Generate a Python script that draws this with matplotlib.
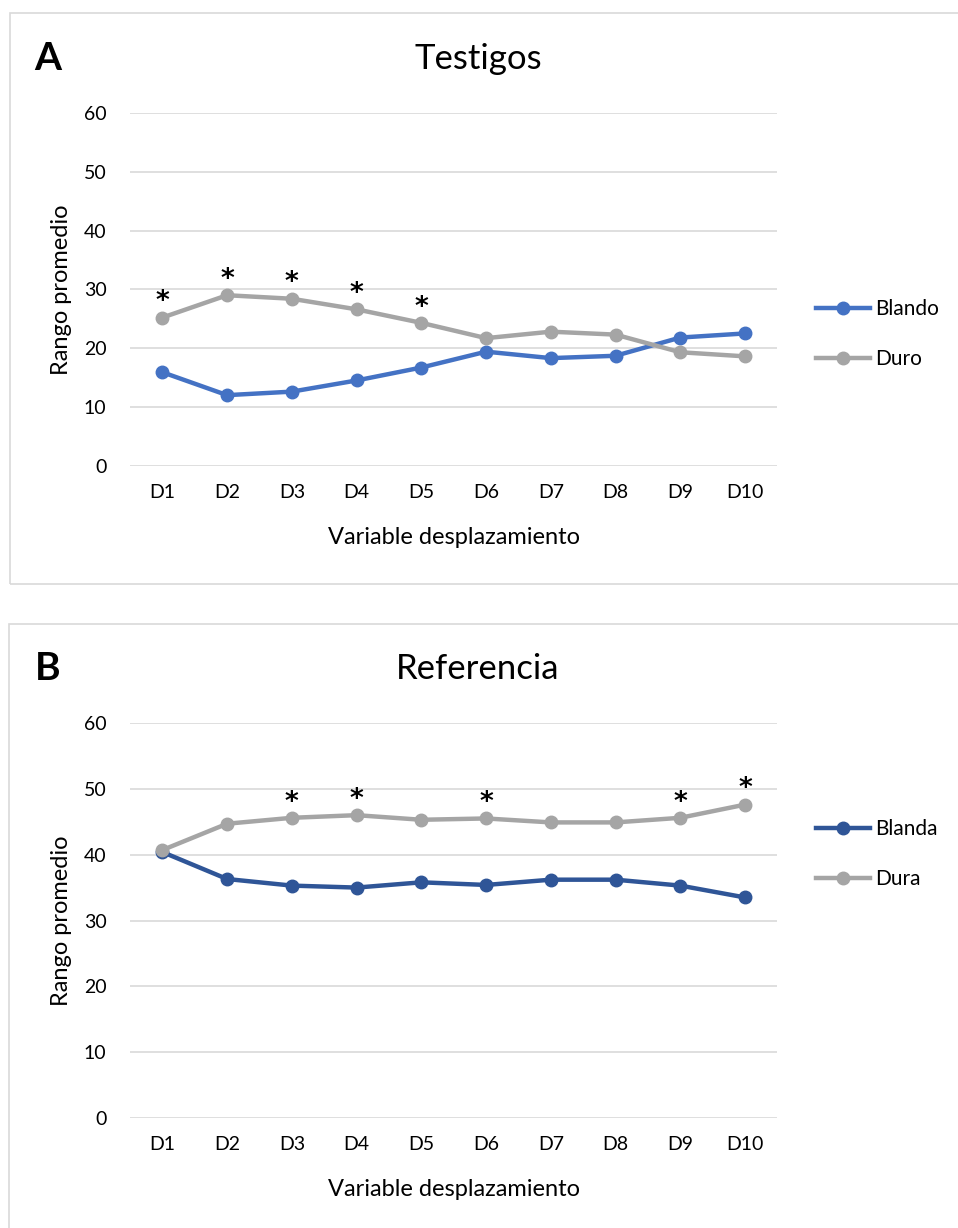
import matplotlib
matplotlib.use('Agg')
import matplotlib.pyplot as plt
from matplotlib.patches import Rectangle

plt.rcParams['font.family'] = ['Lato', 'DejaVu Sans']

cats = ['D1', 'D2', 'D3', 'D4', 'D5', 'D6', 'D7', 'D8', 'D9', 'D10']

# panel A - Testigos
blando = [15.9, 12.0, 12.6, 14.5, 16.7, 19.4, 18.3, 18.7, 21.8, 22.5]
duro = [25.2, 29.0, 28.4, 26.6, 24.3, 21.7, 22.8, 22.3, 19.3, 18.6]
sig_a = ['D1', 'D2', 'D3', 'D4', 'D5']

# panel B - Referencia
blanda = [40.4, 36.3, 35.3, 35.0, 35.8, 35.4, 36.2, 36.2, 35.3, 33.5]
dura = [40.7, 44.7, 45.6, 46.0, 45.3, 45.5, 44.9, 44.9, 45.6, 47.6]
sig_b = ['D3', 'D4', 'D6', 'D9', 'D10']

W, H = 958, 1228
fig = plt.figure(figsize=(W / 100, H / 100), dpi=100)

# panel frames
border = '#D9D9D9'
fig.patches.append(Rectangle((10 / W, 1 - 584 / H), 1.0, (584 - 13) / H,
                             transform=fig.transFigure, fill=False,
                             edgecolor=border, lw=1.2))
fig.patches.append(Rectangle((9 / W, -0.05), 1.0, 0.05 + 1 - 624 / H,
                             transform=fig.transFigure, fill=False,
                             edgecolor=border, lw=1.2))


def panel(top, bottom, letter, title, s1, s2, n1, n2, c1, sig, leg_y):
    ax = fig.add_axes([130 / W, 1 - bottom / H, 647.4 / W, (bottom - top) / H])
    x = list(range(len(cats)))
    ax.plot(x, s1, color=c1, lw=3.2, marker='o', ms=9, label=n1, zorder=3)
    ax.plot(x, s2, color='#A5A5A5', lw=3.2, marker='o', ms=9, label=n2, zorder=3)
    for c in sig:
        i = cats.index(c)
        ax.annotate('*', (i, s2[i]), xytext=(0, 11), textcoords='offset points',
                    ha='center', va='center', fontsize=19, fontweight='bold',
                    color='black', family='DejaVu Sans')
    ax.set_xlim(-0.5, len(cats) - 0.5)
    ax.set_ylim(0, 60)
    ax.set_yticks(range(0, 61, 10))
    ax.set_xticks(x)
    ax.set_xticklabels(cats)
    ax.grid(axis='y', color='#D9D9D9', lw=1.2)
    ax.set_axisbelow(True)
    for sp in ax.spines.values():
        sp.set_visible(False)
    ax.tick_params(length=0, labelsize=14, colors='black')
    ax.tick_params(axis='y', pad=17)
    ax.tick_params(axis='x', pad=13)
    ax.legend(loc='center left', bbox_to_anchor=(1.06, leg_y), frameon=False,
              fontsize=15, handlelength=2.6, handletextpad=0.25,
              labelspacing=1.45, borderpad=0, borderaxespad=0)
    mid = (top + bottom) / 2
    fig.text(62 / W, 1 - mid / H, 'Rango promedio', rotation=90,
             ha='center', va='center', fontsize=17)
    fig.text(454 / W, 1 - (bottom + 72) / H, 'Variable desplazamiento',
             ha='center', va='center', fontsize=17)
    fig.text(478 / W, 1 - (top - 54) / H, title, ha='center', va='center',
             fontsize=25)
    fig.text(48 / W, 1 - (top - 55) / H, letter, ha='center', va='center',
             fontsize=28, fontweight='bold')
    return ax


panel(113, 465.7, 'A', 'Testigos', blando, duro, 'Blando', 'Duro',
      '#4472C4', sig_a, 0.373)
panel(723, 1118, 'B', 'Referencia', blanda, dura, 'Blanda', 'Dura',
      '#2F5597', sig_b, 0.668)

fig.savefig('out.png', dpi=100)
